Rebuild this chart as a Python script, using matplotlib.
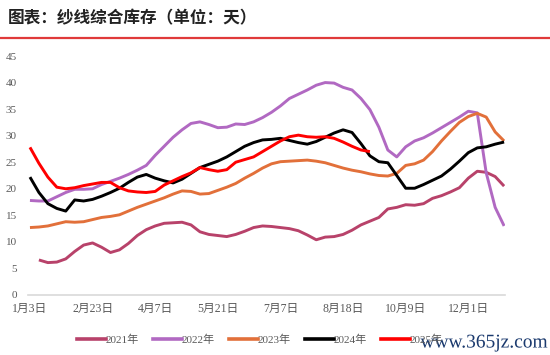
import numpy as np
import matplotlib
matplotlib.use("Agg")
import matplotlib.pyplot as plt
import matplotlib.patheffects as pe
from matplotlib.lines import Line2D

plt.rcParams['font.family'] = ['Liberation Serif', 'Noto Sans CJK SC', 'DejaVu Sans']

title = "图表：纱线综合库存（单位：天）"
tick_labels = ["1月3日", "2月23日", "4月7日", "5月21日", "7月7日", "8月18日", "10月9日", "12月1日"]
series_names = ["2021年", "2022年", "2023年", "2024年", "2025年"]
colors = ["#B8426A", "#B169C2", "#E2703A", "#000000", "#FF0000"]

nan = np.nan
y2021 = [nan, 6.6, 6.1, 6.2, 6.8, 8.2, 9.4, 9.8, 9.0, 8.0, 8.5, 9.7, 11.2, 12.3, 13.0, 13.5,
         13.6, 13.7, 13.2, 11.9, 11.4, 11.2, 11.0, 11.4, 12.0, 12.7, 13.0, 12.9, 12.7, 12.5,
         12.1, 11.3, 10.4, 10.9, 11.0, 11.4, 12.2, 13.2, 13.9, 14.6, 16.2, 16.5, 17.0, 16.9,
         17.2, 18.2, 18.7, 19.4, 20.2, 22.0, 23.3, 23.1, 22.3, 20.5]
y2022 = [17.8, 17.7, 17.7, 18.5, 19.3, 19.9, 19.9, 20.0, 20.8, 21.4, 22.0, 22.7, 23.5, 24.4,
         26.3, 28.0, 29.7, 31.1, 32.3, 32.6, 32.1, 31.5, 31.6, 32.2, 32.1, 32.6, 33.4, 34.4,
         35.6, 37.0, 37.8, 38.6, 39.5, 40.0, 39.9, 39.1, 38.6, 37.0, 34.9, 31.6, 27.3, 26.0,
         27.9, 29.0, 29.6, 30.5, 31.5, 32.5, 33.5, 34.6, 34.3, 23.0, 16.5, 13.0]
y2023 = [12.7, 12.8, 13.0, 13.4, 13.8, 13.7, 13.8, 14.2, 14.6, 14.8, 15.1, 15.8, 16.5, 17.1,
         17.7, 18.3, 19.0, 19.6, 19.5, 19.0, 19.1, 19.7, 20.3, 21.0, 22.0, 22.9, 23.9, 24.7,
         25.1, 25.2, 25.3, 25.4, 25.2, 24.9, 24.4, 23.9, 23.5, 23.2, 22.8, 22.5, 22.4, 22.9,
         24.4, 24.7, 25.4, 27.0, 29.0, 30.8, 32.5, 33.6, 34.2, 33.5, 30.7, 29.0]
y2024 = [22.2, 19.3, 17.2, 16.3, 15.8, 17.9, 17.7, 18.0, 18.6, 19.3, 20.1, 21.2, 22.2, 22.7,
         22.0, 21.5, 21.1, 21.8, 22.9, 24.0, 24.6, 25.2, 26.0, 27.0, 28.0, 28.7, 29.2, 29.3,
         29.5, 29.1, 28.7, 28.4, 28.9, 29.7, 30.5, 31.1, 30.6, 28.5, 26.2, 25.1, 24.9, 22.5,
         20.1, 20.1, 20.8, 21.6, 22.4, 23.7, 25.2, 26.8, 27.7, 27.9, 28.4, 28.8]
y2025 = [27.8, 24.8, 22.2, 20.3, 20.0, 20.2, 20.6, 20.9, 21.2, 21.2, 20.2, 19.6, 19.4, 19.3,
         19.5, 20.7, 21.5, 22.3, 23.0, 24.0, 23.6, 23.3, 23.6, 25.0, 25.5, 26.0, 27.0, 28.0,
         29.0, 29.8, 30.1, 29.8, 29.7, 29.8, 29.5, 28.8, 28.0, 27.3, 27.0]
all_series = [y2021, y2022, y2023, y2024, y2025]

fig = plt.figure(figsize=(5.5, 3.55), dpi=100)
W, H = 550, 355
ax = fig.add_axes([28 / W, 1 - 295 / H, (505 - 28) / W, (295 - 56) / H])

for vals, c, name in zip(all_series, colors, series_names):
    x = np.arange(len(vals))
    ax.plot(x, vals, color=c, lw=2.1, label=name, solid_joinstyle='round', solid_capstyle='butt')

ax.set_ylim(0, 45)
ax.set_xlim(-0.22, 53.1)
ax.set_yticks(np.arange(0, 46, 5))
ax.set_xticks(np.arange(0, 50, 7))
ax.set_xticklabels(tick_labels)
ax.tick_params(axis='both', length=0, labelsize=8, labelcolor='#595959')
ax.tick_params(axis='x', labelsize=8.5)
ax.tick_params(axis='y', pad=8)
ax.tick_params(axis='x', pad=6)
for s in ['top', 'right', 'left']:
    ax.spines[s].set_visible(False)
ax.spines['bottom'].set_color('#D9D9D9')
ax.spines['bottom'].set_linewidth(1.2)

# title and red rule
fig.text(8 / W, 1 - 18 / H, title, fontsize=12, fontweight='bold', color='#222222',
         family=['Noto Sans CJK SC'], va='center', ha='left')
fig.add_artist(Line2D([0, 1], [1 - 37.5 / H, 1 - 37.5 / H], color='#E03A3A', lw=1.6,
                      transform=fig.transFigure))

handles = [Line2D([], [], color=c, lw=2.6) for c in colors]
leg = fig.legend(handles, series_names, loc='center', bbox_to_anchor=(260 / W, 1 - 340 / H),
                 ncol=5, frameon=False, fontsize=8, handlelength=2.6, handletextpad=0.0,
                 columnspacing=1.25)
for t in leg.get_texts():
    t.set_color('#595959')

fig.text(548 / W, 1 - 343 / H, "www.365jz.com", fontsize=14, color='#1B3A6E',
         ha='right', va='center', family=['Liberation Serif'],
         path_effects=[pe.withStroke(linewidth=3, foreground='white')])

fig.savefig("out.png", dpi=100)
